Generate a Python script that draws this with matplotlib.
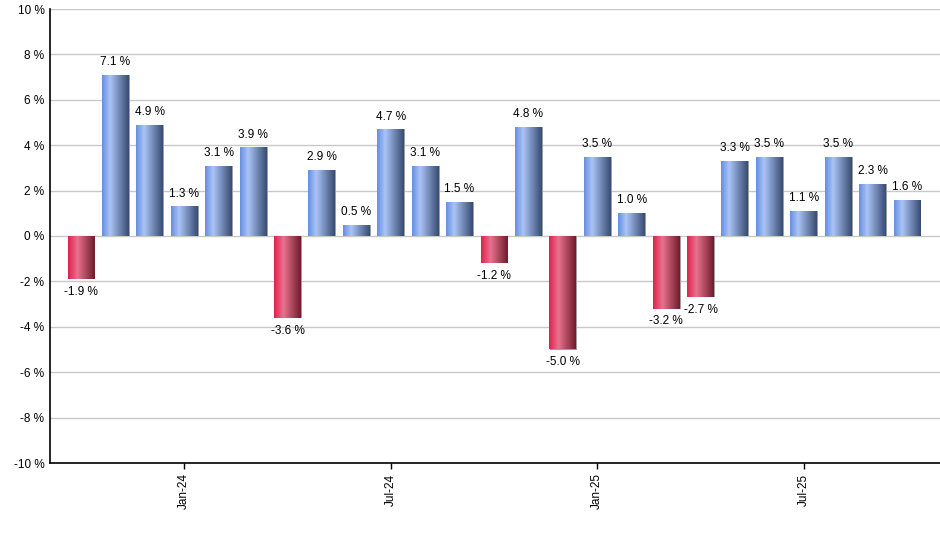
import numpy as np
import matplotlib
matplotlib.use('Agg')
import matplotlib.pyplot as plt
from matplotlib.colors import LinearSegmentedColormap
from matplotlib.patches import Rectangle

plt.rcParams['font.family'] = ['Liberation Sans', 'DejaVu Sans']

# Monthly returns, Oct-23 .. Oct-25
months = ['Oct-23', 'Nov-23', 'Dec-23', 'Jan-24', 'Feb-24', 'Mar-24', 'Apr-24',
          'May-24', 'Jun-24', 'Jul-24', 'Aug-24', 'Sep-24', 'Oct-24', 'Nov-24',
          'Dec-24', 'Jan-25', 'Feb-25', 'Mar-25', 'Apr-25', 'May-25', 'Jun-25',
          'Jul-25', 'Aug-25', 'Sep-25', 'Oct-25']
returns = [-1.9, 7.1, 4.9, 1.3, 3.1, 3.9, -3.6, 2.9, 0.5, 4.7, 3.1, 1.5, -1.2,
           4.8, -5.0, 3.5, 1.0, -3.2, -2.7, 3.3, 3.5, 1.1, 3.5, 2.3, 1.6]
tick_months = ['Jan-24', 'Jul-24', 'Jan-25', 'Jul-25']

blue_cm = LinearSegmentedColormap.from_list('b', [(0, (0.40, 0.56, 0.88)),
                                                   (0.3, (0.67, 0.77, 0.97)),
                                                   (1, (0.22, 0.30, 0.45))])
red_cm = LinearSegmentedColormap.from_list('r', [(0, (0.88, 0.13, 0.30)),
                                                  (0.35, (0.91, 0.45, 0.56)),
                                                  (1, (0.44, 0.11, 0.17))])

dpi = 100
fig = plt.figure(dpi=dpi, figsize=(940 / dpi, 550 / dpi))
ax = fig.add_axes([50 / 940, 1 - 463 / 550, 890 / 940, 454 / 550])

x = np.arange(len(months))
w = 0.78
grad = np.linspace(0, 1, 64).reshape(1, -1)
for i, v in zip(x, returns):
    cm = blue_cm if v >= 0 else red_cm
    y0, y1 = min(0, v), max(0, v)
    # thin shadow on the right edge
    ax.add_patch(Rectangle((i - w / 2 + 0.03, y0), w, y1 - y0,
                           facecolor='#a0a0a0', edgecolor='none', zorder=2))
    rect = Rectangle((i - w / 2, y0), w, y1 - y0, facecolor='none',
                     edgecolor='none', zorder=3)
    ax.add_patch(rect)
    im = ax.imshow(grad, cmap=cm, aspect='auto', zorder=3,
                   extent=(i - w / 2, i + w / 2, y0, y1), interpolation='bilinear')
    im.set_clip_path(rect)
    if v >= 0:
        ax.text(i, v + 0.3, f'{v:.1f} %', ha='center', va='bottom', fontsize=8.5)
    else:
        ax.text(i, v - 0.3, f'{v:.1f} %', ha='center', va='top', fontsize=8.5)

ax.set_xlim(-0.9, 24.96)
ax.set_ylim(-10, 10)
ax.set_yticks(np.arange(-10, 11, 2))
ax.set_yticklabels([f'{t} %' for t in range(-10, 11, 2)], fontsize=8.5)
ax.tick_params(axis='y', length=0, pad=4)
ax.set_xticks([months.index(m) for m in tick_months])
ax.set_xticklabels(tick_months, rotation=90, fontsize=8.5)
ax.tick_params(axis='x', length=4, width=1)
ax.grid(axis='y', color='#c8c8c8', linewidth=1)
ax.set_axisbelow(True)
for s in ['top', 'right']:
    ax.spines[s].set_visible(False)
ax.spines['left'].set_linewidth(1.2)
ax.spines['bottom'].set_linewidth(1.2)

fig.savefig('out.png')
